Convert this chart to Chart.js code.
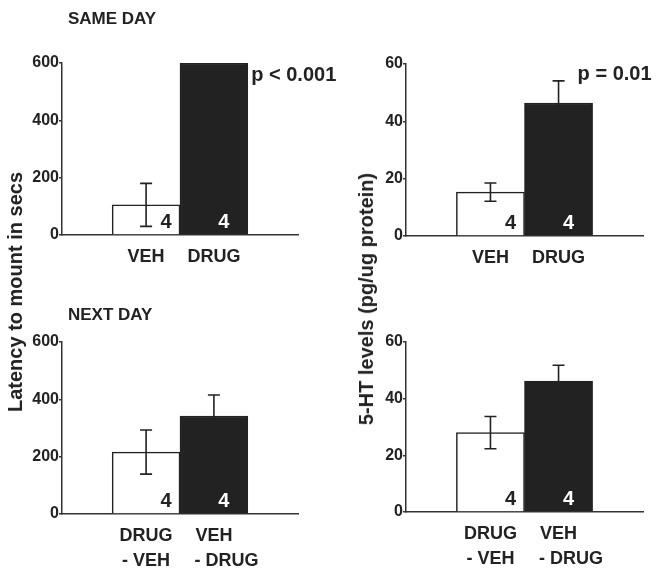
<!DOCTYPE html>
<html>
<head>
<meta charset="utf-8">
<script src="https://cdn.jsdelivr.net/npm/chart.js@4/dist/chart.umd.min.js"></script>
<style>
  html, body { margin: 0; padding: 0; background: #fff; }
  #wrap { position: relative; width: 662px; height: 574px; overflow: hidden; font-family: "Liberation Sans", Arial, sans-serif; color: #222; }
  canvas { position: absolute; left: 0; top: 0; }
  .ttl { position: absolute; font-weight: bold; font-size: 17px; line-height: 17px; white-space: nowrap; }
  .ytl { position: absolute; font-weight: bold; font-size: 20px; line-height: 20px; white-space: nowrap; transform: translate(-50%, -50%) rotate(-90deg); }
</style>
</head>
<body>
<div id="wrap">
  <canvas id="c1" width="662" height="574"></canvas>
  <canvas id="c2" width="662" height="574"></canvas>
  <canvas id="c3" width="662" height="574"></canvas>
  <canvas id="c4" width="662" height="574"></canvas>
  <div class="ttl" style="left:68px; top:10px;">SAME DAY</div>
  <div class="ttl" style="left:68px; top:306px;">NEXT DAY</div>
  <div class="ytl" style="left:15px; top:292px;">Latency to mount in secs</div>
  <div class="ytl" style="left:366px; top:299px;">5-HT levels (pg/ug protein)</div>
</div>
<script>
// ---- data ----
const sameDayGroups = ['VEH', 'DRUG'];
const nextDayGroups = [['DRUG', '- VEH'], ['VEH', '     - DRUG']];
const sameDayLatency = [105, 600];
const sameDayLatencyErr = [75, 0];
const sameDay5HT = [15.3, 46.4];
const sameDay5HTErr = [3.2, 7.7];
const nextDayLatency = [216, 342];
const nextDayLatencyErr = [77, 73];
const nextDay5HT = [28.0, 46.2];
const nextDay5HTErr = [5.7, 5.6];
const nCounts = [4, 4];
const latencyTicks = [0, 200, 400, 600];
const htTicks = [0, 20, 40, 60];
const sameDayLatencyP = 'p < 0.001';
const sameDay5HTP = 'p = 0.01';

// ---- drawing ----
const FONT = '"Liberation Sans", Arial, sans-serif';
const INK = '#222';
const W = 662, H = 574, YW = 50, XH = 60;

const annotPlugin = {
  id: 'annot',
  afterDatasetsDraw(chart, args, opts) {
    const ctx = chart.ctx;
    const ys = chart.scales.y, xs = chart.scales.x;
    const meta = chart.getDatasetMeta(0);
    ctx.save();
    // error bars
    ctx.strokeStyle = INK;
    ctx.lineWidth = 1.6;
    meta.data.forEach((bar, i) => {
      const v = chart.data.datasets[0].data[i].y;
      const e = opts.errs[i];
      if (!e) return;
      const yTop = ys.getPixelForValue(v + e);
      const yBot = ys.getPixelForValue(v - e);
      ctx.beginPath();
      ctx.moveTo(bar.x, yTop); ctx.lineTo(bar.x, yBot);
      ctx.moveTo(bar.x - 6, yTop); ctx.lineTo(bar.x + 6, yTop);
      ctx.moveTo(bar.x - 6, yBot); ctx.lineTo(bar.x + 6, yBot);
      ctx.stroke();
    });
    // n labels
    ctx.font = 'bold 20px ' + FONT;
    ctx.textAlign = 'center';
    ctx.textBaseline = 'middle';
    const y0 = ys.getPixelForValue(0);
    meta.data.forEach((bar, i) => {
      const dark = i === 1;
      ctx.fillStyle = dark ? '#fff' : INK;
      ctx.fillText(String(opts.n[i]), bar.x + (dark ? 10 : 20), y0 - 13);
    });
    // p value
    if (opts.p) {
      ctx.font = 'bold 20px ' + FONT;
      ctx.textAlign = 'left';
      ctx.fillStyle = INK;
      ctx.fillText(opts.p.text, xs.getPixelForValue(opts.p.x), ys.getPixelForValue(opts.p.y));
    }
    ctx.restore();
  }
};

function panel(id, area, groups, values, errs, yTicks, p) {
  const yMax = yTicks[yTicks.length - 1];
  new Chart(document.getElementById(id), {
    type: 'bar',
    data: {
      datasets: [{
        data: values.map((v, i) => ({ x: i + 1, y: v })),
        backgroundColor: ['#ffffff', INK],
        borderColor: INK,
        borderWidth: 1.5,
        barThickness: 'flex',
        barPercentage: 1,
        categoryPercentage: 1
      }]
    },
    plugins: [annotPlugin],
    options: {
      responsive: false,
      animation: false,
      events: [],
      layout: {
        padding: { left: area.l - YW, top: area.t, right: W - area.r, bottom: H - area.b - XH }
      },
      plugins: {
        legend: { display: false },
        tooltip: { enabled: false },
        annot: { errs: errs, n: nCounts, p: p }
      },
      scales: {
        x: {
          type: 'linear',
          offset: false,
          bounds: 'data',
          min: -0.24, max: 3.24,
          afterFit(s) { s.height = XH; },
          afterBuildTicks(s) { s.ticks = groups.map((g, i) => ({ value: i + 1 })); },
          grid: { display: true, offset: false, drawOnChartArea: false, drawTicks: false },
          border: { display: true, color: '#333', width: 1.5 },
          ticks: {
            autoSkip: false, maxRotation: 0, padding: 9, color: INK,
            font: { family: FONT, size: 18, weight: 'bold', lineHeight: 1.4 },
            callback: (v) => groups[v - 1]
          }
        },
        y: {
          min: 0, max: yMax,
          afterFit(s) { s.width = YW; },
          afterBuildTicks(s) { s.ticks = yTicks.map(v => ({ value: v })); },
          grid: { display: true, drawOnChartArea: false, drawTicks: true, tickLength: 3, color: '#333', lineWidth: 1.5 },
          border: { display: true, color: '#333', width: 1.5 },
          ticks: {
            padding: 0, color: INK,
            font: { family: FONT, size: 16, weight: 'bold' }
          }
        }
      }
    }
  });
}

panel('c1', { l: 62, t: 63, r: 298, b: 235 }, sameDayGroups, sameDayLatency, sameDayLatencyErr, latencyTicks,
      { text: sameDayLatencyP, x: 2.55, y: 558 });
panel('c2', { l: 406, t: 64, r: 643, b: 236 }, sameDayGroups, sameDay5HT, sameDay5HTErr, htTicks,
      { text: sameDay5HTP, x: 2.28, y: 56.2 });
panel('c3', { l: 62, t: 342, r: 298, b: 514 }, nextDayGroups, nextDayLatency, nextDayLatencyErr, latencyTicks, null);
panel('c4', { l: 406, t: 342, r: 643, b: 512 }, nextDayGroups, nextDay5HT, nextDay5HTErr, htTicks, null);
</script>
</body>
</html>
